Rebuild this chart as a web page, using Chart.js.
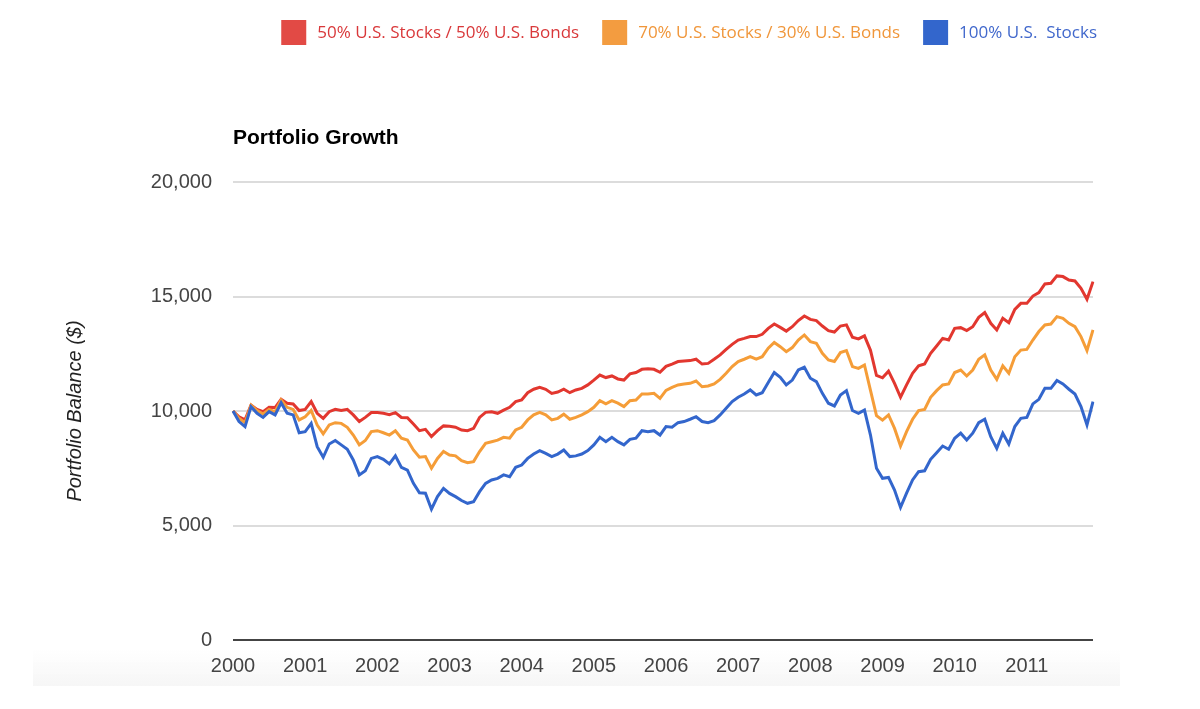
<!DOCTYPE html>
<html>
<head>
<meta charset="utf-8">
<title>Portfolio Growth</title>
<script src="https://cdn.jsdelivr.net/npm/chart.js@4.4.1/dist/chart.umd.min.js"></script>
<style>
  html, body { margin: 0; padding: 0; background: #fff; }
  #chart { display: block; }
</style>
</head>
<body>
<canvas id="chart" width="1200" height="709"></canvas>
<script>
// one point per month, Jan 2000 .. Dec 2011
const years = ['2000', '2001', '2002', '2003', '2004', '2005', '2006', '2007', '2008', '2009', '2010', '2011'];
const monthNames = ['Jan', 'Feb', 'Mar', 'Apr', 'May', 'Jun', 'Jul', 'Aug', 'Sep', 'Oct', 'Nov', 'Dec'];
const months = years.flatMap(y => monthNames.map(m => m + ' ' + y));

const seriesNames = ['50% U.S. Stocks / 50% U.S. Bonds', '70% U.S. Stocks / 30% U.S. Bonds', '100% U.S.  Stocks'];
const lineColors = ['#e2372f', '#f59d38', '#3366cc'];
const boxColors = ['#e24a45', '#f39c40', '#3366cc'];
const textColors = ['#d9383a', '#f0963a', '#4168cc'];

const balance5050 = [
  10000, 9750, 9610, 10260, 10070, 9970, 10160, 10150, 10510, 10340, 10310, 10020,
  10070, 10410, 9900, 9680, 9970, 10070, 10020, 10070, 9830, 9540, 9720, 9930,
  9930, 9900, 9840, 9930, 9720, 9710, 9430, 9140, 9200, 8880, 9140, 9350,
  9330, 9290, 9170, 9140, 9240, 9720, 9940, 9970, 9900, 10040, 10160, 10410,
  10480, 10800, 10950, 11030, 10950, 10770, 10830, 10950, 10800, 10920, 10990, 11140,
  11350, 11570, 11460, 11530, 11400, 11350, 11620, 11680, 11820, 11840, 11820, 11690,
  11950, 12050, 12160, 12180, 12200, 12260, 12050, 12080, 12260, 12450, 12690, 12910,
  13100, 13170, 13250, 13250, 13350, 13610, 13800, 13650, 13490, 13680, 13950, 14150,
  14000, 13950, 13710, 13510, 13450, 13710, 13760, 13220, 13150, 13280, 12650, 11550,
  11450, 11740, 11210, 10600, 11140, 11650, 11970, 12050, 12520, 12840, 13170, 13100,
  13610, 13640, 13510, 13680, 14090, 14300, 13830, 13540, 14050, 13860, 14440, 14700,
  14700, 15020, 15170, 15550, 15580, 15900, 15870, 15720, 15680, 15360, 14880, 15650
];
const balance7030 = [
  10000, 9680, 9490, 10260, 10020, 9870, 10070, 9970, 10480, 10160, 10070, 9610,
  9750, 10020, 9390, 9000, 9390, 9490, 9460, 9290, 8950, 8520, 8710, 9100,
  9140, 9050, 8950, 9140, 8810, 8730, 8300, 7980, 8010, 7500, 7930, 8230,
  8080, 8040, 7830, 7740, 7790, 8230, 8590, 8660, 8730, 8850, 8810, 9170,
  9290, 9610, 9830, 9940, 9830, 9610, 9680, 9860, 9640, 9720, 9830, 9970,
  10160, 10450, 10310, 10450, 10340, 10190, 10450, 10480, 10740, 10740, 10770, 10550,
  10900, 11030, 11140, 11180, 11210, 11310, 11060, 11090, 11180, 11380, 11650, 11940,
  12160, 12260, 12370, 12260, 12370, 12740, 12990, 12810, 12590, 12770, 13100, 13320,
  13030, 12960, 12520, 12230, 12160, 12550, 12640, 11940, 11860, 12010, 10900, 9800,
  9600, 9830, 9240, 8470, 9100, 9640, 10020, 10070, 10600, 10890, 11140, 11180,
  11680, 11790, 11530, 11790, 12260, 12450, 11790, 11380, 11970, 11650, 12370, 12660,
  12690, 13100, 13470, 13760, 13800, 14120, 14050, 13830, 13680, 13250, 12640, 13540
];
const balance100 = [
  10000, 9540, 9320, 10190, 9900, 9720, 9970, 9830, 10360, 9900, 9830, 9050,
  9100, 9460, 8440, 7980, 8560, 8710, 8520, 8330, 7860, 7210, 7390, 7930,
  8010, 7890, 7690, 8040, 7540, 7420, 6840, 6430, 6410, 5710, 6260, 6620,
  6400, 6260, 6090, 5970, 6040, 6480, 6840, 6990, 7060, 7210, 7130, 7540,
  7640, 7930, 8120, 8270, 8150, 8010, 8120, 8300, 8010, 8040, 8120, 8270,
  8520, 8850, 8660, 8850, 8660, 8520, 8760, 8810, 9140, 9100, 9140, 8950,
  9320, 9290, 9490, 9540, 9640, 9750, 9540, 9490, 9580, 9830, 10120, 10410,
  10600, 10740, 10920, 10700, 10800, 11240, 11680, 11470, 11140, 11350, 11790, 11910,
  11430, 11280, 10770, 10340, 10220, 10700, 10890, 10020, 9900, 10040, 8950, 7500,
  7060, 7100, 6550, 5790, 6410, 6990, 7350, 7390, 7890, 8180, 8470, 8330,
  8810, 9030, 8730, 9030, 9490, 9640, 8880, 8370, 9030, 8560, 9320, 9680,
  9720, 10310, 10510, 10990, 10990, 11330, 11180, 10950, 10740, 10190, 9390, 10410
];
const yMax = 20000;
const yStep = 5000;

// faint grey band behind the year labels
const bandPlugin = {
  id: 'band',
  beforeDraw(chart) {
    const ctx = chart.ctx;
    const g = ctx.createLinearGradient(0, 650, 0, 686);
    g.addColorStop(0, 'rgba(246,246,246,0)');
    g.addColorStop(1, 'rgba(246,246,246,1)');
    ctx.save();
    ctx.fillStyle = g;
    ctx.fillRect(33, 650, 1087, 36);
    ctx.restore();
  }
};

// title above the plot + legend row at the top right
const headerPlugin = {
  id: 'header',
  afterDraw(chart) {
    const ctx = chart.ctx;
    ctx.save();
    ctx.font = 'bold 21px "Liberation Sans", Arial, sans-serif';
    ctx.fillStyle = '#000';
    ctx.textBaseline = 'middle';
    ctx.textAlign = 'left';
    ctx.fillText('Portfolio Growth', chart.chartArea.left, 138);

    ctx.font = '17px "Open Sans", sans-serif';
    const box = 25, gap = 11, between = 23;
    const widths = seriesNames.map(n => ctx.measureText(n).width);
    const total = widths.reduce((a, w) => a + box + gap + w, 0) + between * (seriesNames.length - 1);
    let x = chart.width - 103 - total;
    seriesNames.forEach((name, i) => {
      ctx.fillStyle = boxColors[i];
      ctx.fillRect(x, 20, box, box);
      ctx.fillStyle = textColors[i];
      ctx.fillText(name, x + box + gap, 33);
      x += box + gap + widths[i] + between;
    });
    ctx.restore();
  }
};

const makeSet = (i, data) => ({
  label: seriesNames[i],
  data: data,
  borderColor: lineColors[i],
  backgroundColor: lineColors[i],
  borderWidth: 3,
  pointRadius: 0,
  tension: 0,
  fill: false
});

new Chart(document.getElementById('chart'), {
  type: 'line',
  data: {
    labels: months,
    // blue drawn first so red ends up on top
    datasets: [makeSet(2, balance100), makeSet(1, balance7030), makeSet(0, balance5050)]
  },
  options: {
    responsive: false,
    animation: false,
    devicePixelRatio: 1,
    layout: { padding: { top: 182, right: 107, bottom: 0, left: 0 } },
    plugins: {
      legend: { display: false },
      title: { display: false },
      tooltip: { enabled: false }
    },
    scales: {
      x: {
        grid: { display: false },
        border: { display: false },
        ticks: {
          autoSkip: false,
          maxRotation: 0,
          padding: 6,
          color: '#444',
          font: { family: '"Liberation Sans", Arial, sans-serif', size: 20 },
          callback: (v, i) => (i % 12 === 0 ? years[i / 12] : '')
        },
        afterFit: s => { s.height = 69; }
      },
      y: {
        min: 0,
        max: yMax,
        border: { display: false },
        grid: {
          drawTicks: false,
          lineWidth: 2,
          color: c => (c.tick && c.tick.value === 0 ? '#444' : '#dcdcdc')
        },
        ticks: {
          stepSize: yStep,
          padding: 21,
          color: '#444',
          font: { family: '"Liberation Sans", Arial, sans-serif', size: 20 },
          callback: v => v.toLocaleString('en-US')
        },
        title: {
          display: true,
          text: 'Portfolio Balance ($)',
          color: '#222',
          padding: { top: 63, bottom: 0 },
          font: { family: '"Liberation Sans", Arial, sans-serif', size: 20, style: 'italic' }
        },
        afterFit: s => { s.width = 233; }
      }
    }
  },
  plugins: [bandPlugin, headerPlugin]
});
</script>
</body>
</html>
